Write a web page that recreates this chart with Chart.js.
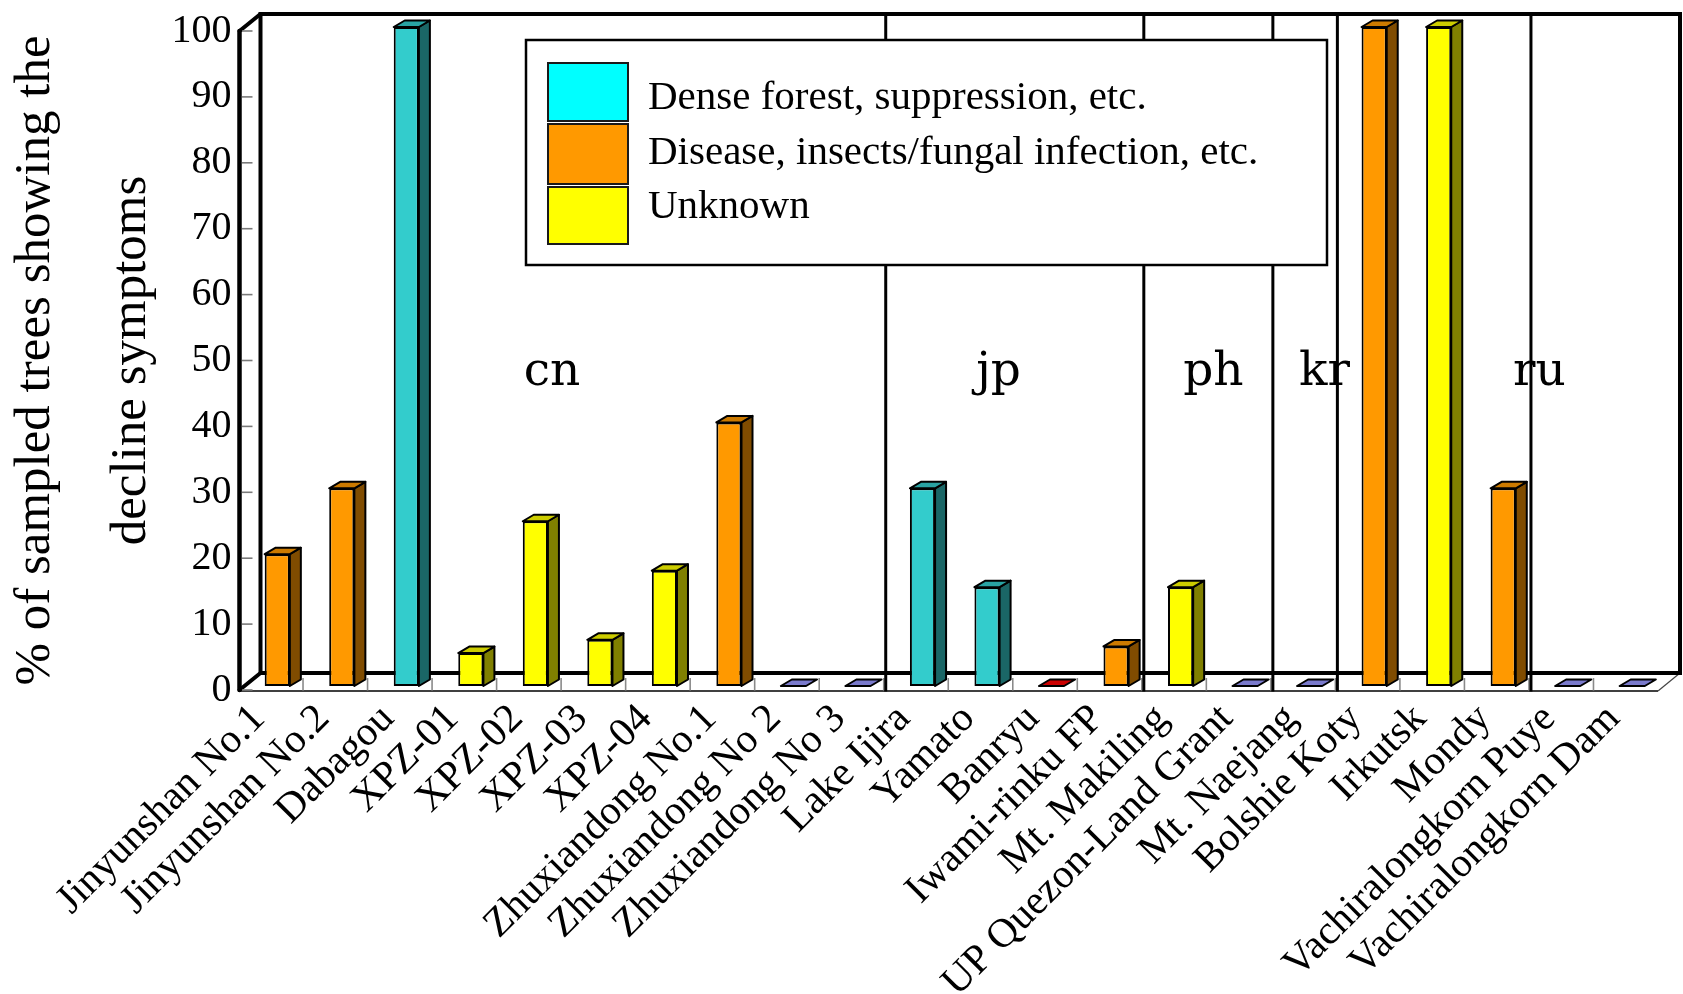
<!DOCTYPE html>
<html>
<head>
<meta charset="utf-8">
<script src="https://cdn.jsdelivr.net/npm/chart.js@4.4.0/dist/chart.umd.min.js"></script>
<style>
  html, body { margin: 0; padding: 0; background: #ffffff; }
  #wrap { width: 1683px; height: 994px; position: relative; }
</style>
</head>
<body>
<div id="wrap"><canvas id="chart" width="1683" height="994"></canvas></div>
<script>
// ---------------- data ----------------
const sites = [
  'Jinyunshan No.1', 'Jinyunshan No.2', 'Dabagou', 'XPZ-01', 'XPZ-02', 'XPZ-03', 'XPZ-04',
  'Zhuxiandong No.1', 'Zhuxiandong No 2', 'Zhuxiandong No 3', 'Lake Ijira', 'Yamato', 'Banryu',
  'Iwami-rinku FP', 'Mt. Makiling', 'UP Quezon-Land Grant', 'Mt. Naejang', 'Bolshie Koty',
  'Irkutsk', 'Mondy', 'Vachiralongkorn Puye', 'Vachiralongkorn Dam'
];
const denseForest = [null, null, 100, null, null, null, null, null, null, null, 30, 15, null, null, null, null, null, null, null, null, null, null];
const diseaseInsects = [20, 30, null, null, null, null, null, 40, null, null, null, null, null, 6, null, null, null, 100, null, 30, null, null];
const unknownCause = [null, null, null, 5, 25, 7, 17.5, null, null, null, null, null, null, null, 15, null, null, null, 100, null, null, null];
const noDeclineA = [null, null, null, null, null, null, null, null, 0, 0, null, null, null, null, null, 0, 0, null, null, null, 0, 0];
const noDeclineB = [null, null, null, null, null, null, null, null, null, null, null, null, 0, null, null, null, null, null, null, null, null, null];
const yTickValues = [0, 10, 20, 30, 40, 50, 60, 70, 80, 90, 100];
const countries = ['cn', 'jp', 'ph', 'kr', 'ru'];
const countryLabelAt = [4.36, 11.28, 14.61, 16.33, 19.66];   // in category units
const groupEndsAfter = [9, 13, 15, 16, 19];                  // last index of each group

const seriesNames = ['Dense forest, suppression, etc.', 'Disease, insects/fungal infection, etc.', 'Unknown'];

// ---------------- 3D geometry / styles ----------------
const FLOOR_DX = 22, FLOOR_DY = -17;
const BAR_OX = 6.5, BAR_OY = -4;
const BAR_DX = 11, BAR_DY = -6.5;
const SERIF = '"Liberation Serif", "Times New Roman", serif';

function seg(ctx, x1, y1, x2, y2, w, c) {
  ctx.beginPath();
  ctx.moveTo(x1, y1);
  ctx.lineTo(x2, y2);
  ctx.lineWidth = w;
  ctx.strokeStyle = c;
  ctx.stroke();
}
function poly(ctx, pts, fill) {
  ctx.beginPath();
  ctx.moveTo(pts[0][0], pts[0][1]);
  for (let i = 1; i < pts.length; i++) ctx.lineTo(pts[i][0], pts[i][1]);
  ctx.closePath();
  ctx.fillStyle = fill;
  ctx.fill();
  ctx.lineWidth = 2;
  ctx.strokeStyle = '#000';
  ctx.stroke();
}

const frame3d = {
  id: 'frame3d',
  beforeDatasetsDraw(chart) {
    const { ctx, chartArea: a, scales: { x, y } } = chart;
    const L = a.left, R = a.right;
    const T = y.getPixelForValue(100), B = y.getPixelForValue(0);
    ctx.save();
    ctx.lineCap = 'butt';
    ctx.lineJoin = 'miter';
    // floor
    seg(ctx, L, B + 1, R, B + 1, 1.6, '#000');
    seg(ctx, R, B + 1, R + FLOOR_DX, B + FLOOR_DY, 1.2, '#444');
    for (let i = 1; i < sites.length; i++) {
      const bx = (x.getPixelForValue(i - 1) + x.getPixelForValue(i)) / 2;
      seg(ctx, bx, B + FLOOR_DY + 5, bx, B + 0.5, 1.6, '#8a8a8a');
    }
    // back wall
    ctx.lineWidth = 4;
    ctx.strokeStyle = '#000';
    ctx.strokeRect(L + FLOOR_DX, T + FLOOR_DY, R - L, B - T);
    // group separators
    groupEndsAfter.forEach(i => {
      const sx = (x.getPixelForValue(i) + x.getPixelForValue(i + 1)) / 2 + 2;
      seg(ctx, sx, T + FLOOR_DY, sx, B + 1.5, 3, '#000');
    });
    // left wall / front value axis
    ctx.lineCap = 'round';
    seg(ctx, L + 1, T, L + 1, B, 4.5, '#000');
    seg(ctx, L + 1, T, L + FLOOR_DX, T + FLOOR_DY, 4, '#000');
    seg(ctx, L + 1, B, L + FLOOR_DX, B + FLOOR_DY, 4, '#000');
    ctx.lineCap = 'butt';
    yTickValues.forEach(v => {
      const ty = y.getPixelForValue(v);
      seg(ctx, L + 3.5, ty, L + 14, ty, 1.6, '#7a7a7a');
    });
    ctx.restore();
    // shift the front faces of the bars into the middle of the floor depth
    ctx.save();
    ctx.translate(BAR_OX, BAR_OY);
  },
  afterDatasetsDraw(chart) {
    const { ctx, scales: { x, y } } = chart;
    ctx.restore();
    ctx.save();
    ctx.lineJoin = 'round';
    chart.data.datasets.forEach((ds, di) => {
      const meta = chart.getDatasetMeta(di);
      meta.data.forEach((el, i) => {
        const v = ds.data[i];
        if (v === null || v === undefined) return;
        const cx = el.x + BAR_OX, w = el.width;
        const l = cx - w / 2, r = cx + w / 2;
        const top = el.y + BAR_OY, base = el.base + BAR_OY;
        if (top < base - 0.5) {
          poly(ctx, [[r, top], [r + BAR_DX, top + BAR_DY], [r + BAR_DX, base + BAR_DY], [r, base]], ds.sideColor);
        }
        poly(ctx, [[l, top], [l + BAR_DX, top + BAR_DY], [r + BAR_DX, top + BAR_DY], [r, top]], ds.topColor);
      });
    });
    // country labels
    ctx.font = '47px "DejaVu Serif", serif';
    ctx.fillStyle = '#000';
    ctx.textAlign = 'center';
    ctx.textBaseline = 'alphabetic';
    const yb = y.getPixelForValue(46.3);
    countries.forEach((c, k) => {
      ctx.fillText(c, x.getPixelForValue(countryLabelAt[k]), yb);
    });
    ctx.restore();
  },
  afterDraw(chart) {
    const ctx = chart.ctx;
    const bx = 526, by = 40, bw = 801, bh = 225;
    ctx.save();
    ctx.fillStyle = '#fff';
    ctx.fillRect(bx, by, bw, bh);
    ctx.lineWidth = 2.5;
    ctx.strokeStyle = '#000';
    ctx.strokeRect(bx, by, bw, bh);
    const rows = [[63, 58], [124, 60], [187, 57]];
    ctx.font = '41px ' + SERIF;
    ctx.textAlign = 'left';
    ctx.textBaseline = 'alphabetic';
    for (let k = 0; k < 3; k++) {
      const ds = chart.data.datasets[k];
      ctx.fillStyle = ds.legendColor;
      ctx.fillRect(548, rows[k][0], 80, rows[k][1]);
      ctx.lineWidth = 2;
      ctx.strokeStyle = '#1a1a1a';
      ctx.strokeRect(548, rows[k][0], 80, rows[k][1]);
      ctx.fillStyle = '#000';
      ctx.fillText(ds.label, 648, [109, 164, 218][k]);
    }
    ctx.restore();
  }
};

function barSet(label, data, front, side, top, legendColor, bw) {
  return {
    label, data,
    backgroundColor: front,
    borderColor: '#000',
    borderWidth: bw,
    borderSkipped: false,
    sideColor: side, topColor: top, legendColor,
    clip: false,
    categoryPercentage: 1.0,
    barPercentage: 0.39
  };
}

new Chart(document.getElementById('chart'), {
  type: 'bar',
  data: {
    labels: sites,
    datasets: [
      barSet(seriesNames[0], denseForest, '#33CCCC', '#1A6666', '#29A3A3', '#00FFFF', 2),
      barSet(seriesNames[1], diseaseInsects, '#FF9900', '#804C00', '#CC7A00', '#FF9900', 2),
      barSet(seriesNames[2], unknownCause, '#FFFF00', '#808000', '#CCCC00', '#FFFF00', 2),
      barSet('', noDeclineA, '#9999FF', '#4C4C80', '#7A7ACC', '#9999FF', 0),
      barSet('', noDeclineB, '#FF0000', '#800000', '#CC0000', '#FF0000', 0)
    ]
  },
  options: {
    responsive: false,
    animation: false,
    devicePixelRatio: 1,
    layout: { padding: { left: 0, top: 27, right: 25, bottom: 0 } },
    plugins: {
      legend: { display: false },
      tooltip: { enabled: false },
      title: { display: false }
    },
    scales: {
      x: {
        stacked: true,
        offset: true,
        grid: { display: false, drawTicks: false },
        border: { display: false },
        ticks: {
          autoSkip: false,
          minRotation: 45,
          maxRotation: 45,
          padding: 5,
          labelOffset: -12,
          color: '#000',
          font: { family: SERIF, size: 41 }
        },
        afterFit(scale) { scale.height = 304; }
      },
      y: {
        min: 0,
        max: 100,
        afterBuildTicks(scale) { scale.ticks = yTickValues.map(v => ({ value: v })); },
        grid: { display: false, drawTicks: false },
        border: { display: false },
        ticks: {
          padding: 7,
          color: '#000',
          font: { family: SERIF, size: 40 }
        },
        title: {
          display: true,
          text: ['% of sampled trees showing the', 'decline symptoms'],
          color: '#000',
          font: { family: SERIF, size: 51, lineHeight: 1.89 },
          padding: { top: -13, bottom: 0 }
        },
        afterFit(scale) { scale.width = 238.5; }
      }
    }
  },
  plugins: [frame3d]
});
</script>
</body>
</html>
